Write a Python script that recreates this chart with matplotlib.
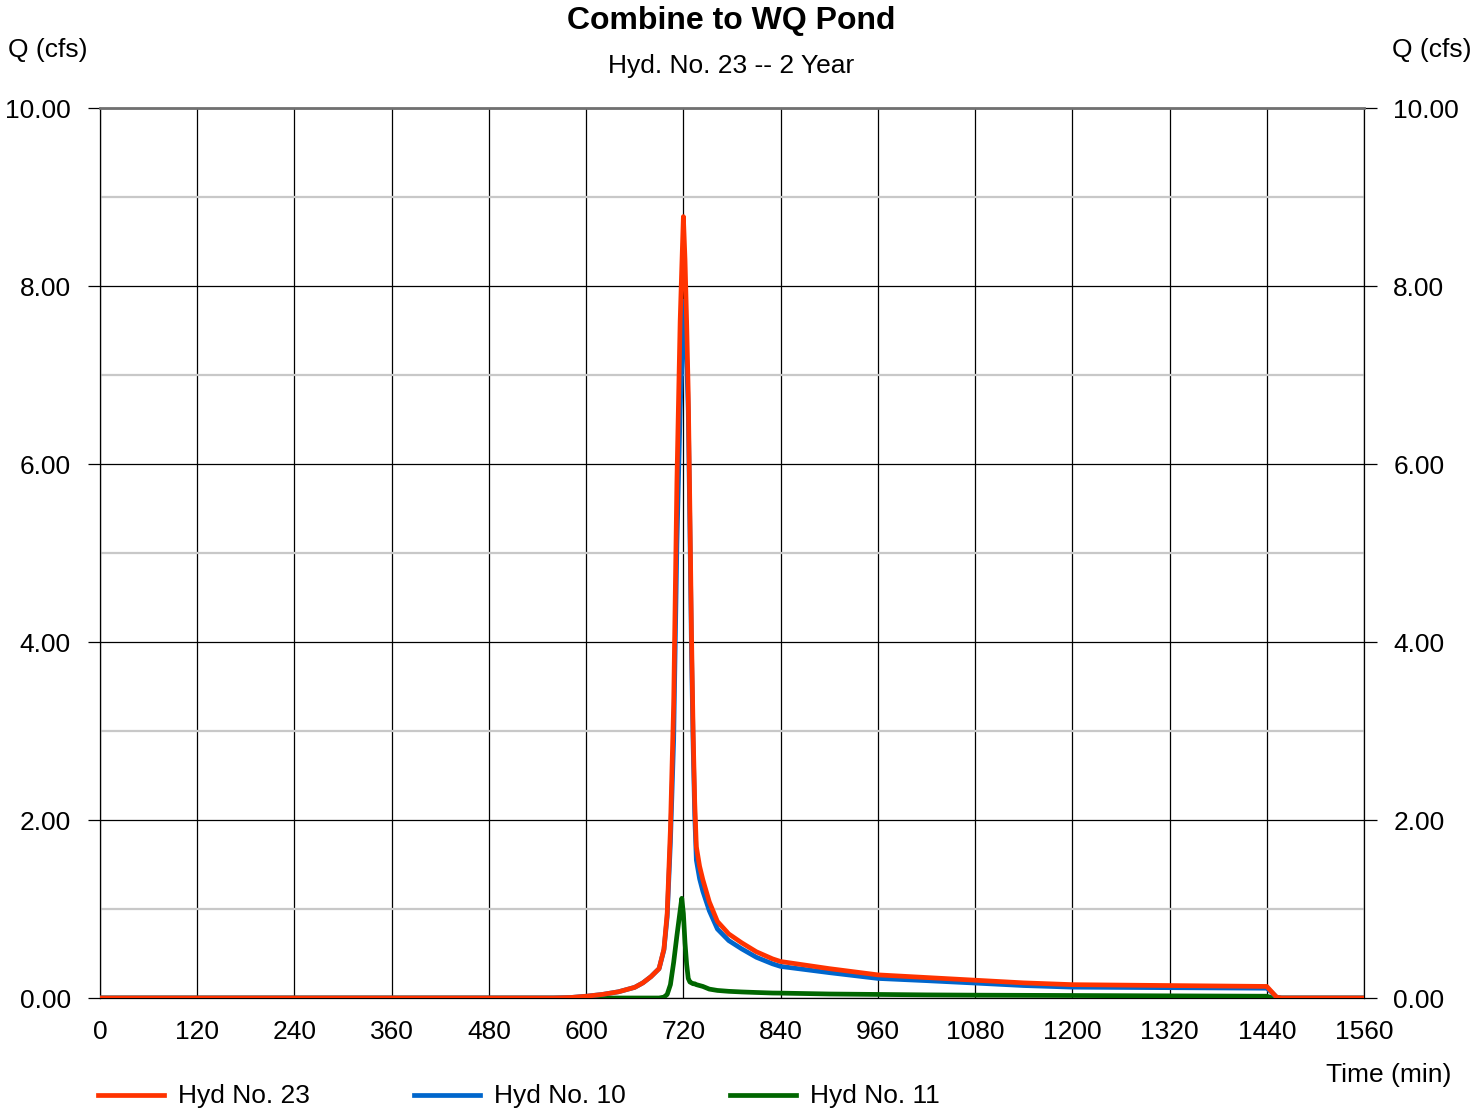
import matplotlib
matplotlib.use("Agg")
import matplotlib.pyplot as plt
from matplotlib.lines import Line2D
from matplotlib.ticker import MultipleLocator

plt.rcParams['font.family'] = ['Liberation Sans', 'DejaVu Sans']

# Hydrograph ordinates (time in minutes, flow in cfs)
time_min = [0, 560, 580, 600, 620, 640, 660, 670, 680, 690, 696, 700, 704, 708, 712, 716, 718, 720,
            722, 724, 726, 728, 730, 732, 734, 736, 740, 744, 752, 762, 776, 792, 810, 830, 840,
            900, 960, 1020, 1080, 1140, 1200, 1260, 1320, 1380, 1440, 1446, 1452, 1458, 1560]
hyd23 = [0, 0, 0.005, 0.02, 0.04, 0.07, 0.12, 0.17, 0.24, 0.33, 0.55, 0.95, 1.9, 3.3, 5.8, 7.6, 8.2, 8.78,
         8.3, 7.6, 6.8, 5.5, 4.1, 3.0, 2.2, 1.7, 1.48, 1.33, 1.08, 0.86, 0.72, 0.62, 0.52, 0.44, 0.41,
         0.33, 0.26, 0.23, 0.20, 0.17, 0.15, 0.145, 0.14, 0.135, 0.13, 0.07, 0.01, 0, 0]
hyd10 = [0, 0, 0.005, 0.02, 0.04, 0.07, 0.12, 0.17, 0.24, 0.33, 0.54, 0.91, 1.75, 2.9, 5.1, 6.6, 7.1, 7.83,
         7.7, 7.2, 6.6, 5.3, 3.9, 2.85, 2.05, 1.55, 1.34, 1.2, 0.98, 0.775, 0.645, 0.552, 0.458, 0.384, 0.355,
         0.285, 0.22, 0.195, 0.168, 0.14, 0.122, 0.119, 0.116, 0.113, 0.11, 0.065, 0.01, 0, 0]
hyd11 = [0, 0, 0, 0, 0, 0, 0, 0, 0, 0, 0.01, 0.04, 0.15, 0.4, 0.7, 0.98, 1.12, 0.95,
         0.62, 0.38, 0.22, 0.18, 0.17, 0.16, 0.16, 0.15, 0.14, 0.13, 0.10, 0.085, 0.075, 0.068, 0.062, 0.056, 0.055,
         0.045, 0.04, 0.035, 0.032, 0.03, 0.028, 0.026, 0.024, 0.022, 0.02, 0.005, 0, 0, 0]

x_ticks = [0, 120, 240, 360, 480, 600, 720, 840, 960, 1080, 1200, 1320, 1440, 1560]
y_ticks = [0, 2, 4, 6, 8, 10]

series = [("Hyd No. 23", hyd23, "#ff3300"),
          ("Hyd No. 10", hyd10, "#0066cc"),
          ("Hyd No. 11", hyd11, "#006600")]

W, H = 1473, 1114
fig = plt.figure(figsize=(W / 100, H / 100), dpi=100)
ax = fig.add_axes([100 / W, 1 - 998 / H, 1264 / W, 890 / H])

ax.set_xlim(0, 1560)
ax.set_ylim(0, 10)
ax.set_xticks(x_ticks)
ax.set_yticks(y_ticks)
ax.yaxis.set_minor_locator(MultipleLocator(1))

# grid: black majors, grey minors
ax.grid(which='major', axis='both', color='black', linewidth=0.9)
ax.grid(which='minor', axis='y', color='#c8c8c8', linewidth=1.6)
ax.set_axisbelow(True)

# curves: green under blue under red
for label, vals, col in reversed(series):
    ax.plot(time_min, vals, color=col, linewidth=3.4, solid_joinstyle='round', zorder=3)

for s in ['left', 'right', 'bottom']:
    ax.spines[s].set_color('black')
    ax.spines[s].set_linewidth(0.9)
ax.spines['top'].set_color('#707070')
ax.spines['top'].set_linewidth(2.0)

ax.tick_params(axis='x', length=0, pad=16, labelsize=19)
ax.tick_params(axis='y', which='major', length=9, width=0.9, direction='out',
               labelsize=19, pad=12, left=True, right=True, labelleft=True, labelright=True)
ax.tick_params(axis='y', which='minor', length=0)
ax.set_xticklabels([str(v) for v in x_ticks])
ax.set_yticklabels([f"{v:.2f}" for v in y_ticks])

fig.text(731 / W, 1 - 21 / H, "Combine to WQ Pond", ha='center', va='center',
         fontsize=23, fontweight='bold')
fig.text(731 / W, 1 - 66 / H, "Hyd. No. 23 -- 2 Year", ha='center', va='center', fontsize=19)
fig.text(8 / W, 1 - 50 / H, "Q (cfs)", ha='left', va='center', fontsize=19)
fig.text(1471 / W, 1 - 50 / H, "Q (cfs)", ha='right', va='center', fontsize=19)
fig.text(1451 / W, 1 - 1075 / H, "Time (min)", ha='right', va='center', fontsize=19)

# legend row along the bottom
leg_x = [98, 414, 730]
for (label, vals, col), lx in zip(series, leg_x):
    fig.add_artist(Line2D([lx / W, (lx + 66) / W], [1 - 1095 / H, 1 - 1095 / H],
                          color=col, linewidth=3.4, transform=fig.transFigure))
    fig.text((lx + 80) / W, 1 - 1096 / H, label, ha='left', va='center', fontsize=19)

fig.savefig("out.png", dpi=100)
